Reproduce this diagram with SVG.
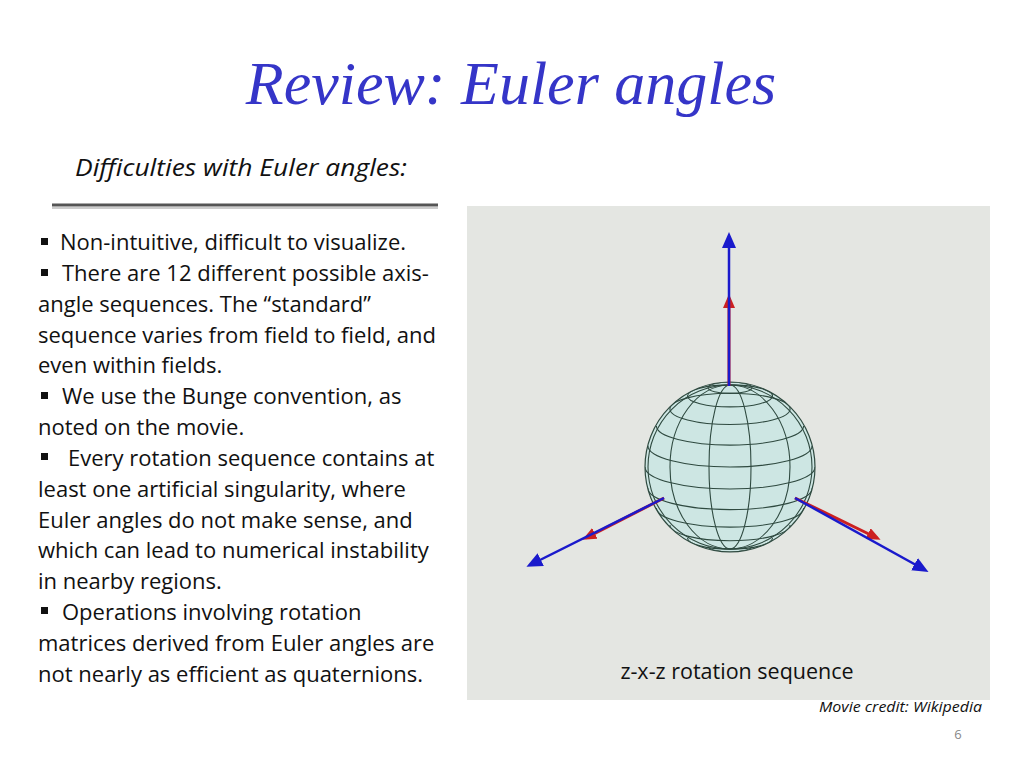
<svg xmlns="http://www.w3.org/2000/svg" width="1024" height="768" viewBox="0 0 1024 768">
<style>
.b{font-family:"Open Sans","Liberation Sans",sans-serif;font-size:22px;fill:#111}
.g{fill:none;stroke:#2f4a40;stroke-width:1.1}
.ax{stroke:#1a1acc;stroke-width:2.5}
.rx{stroke:#cc2020;stroke-width:3}
</style>
<defs>
<marker id="bh" markerWidth="16" markerHeight="14" refX="12" refY="7" orient="auto" markerUnits="userSpaceOnUse" viewBox="0 0 16 14"><path d="M0,0 L16,7 L0,14 z" fill="#1a1acc"/></marker>
<marker id="rh" markerWidth="14" markerHeight="12" refX="10" refY="6" orient="auto" markerUnits="userSpaceOnUse" viewBox="0 0 14 12"><path d="M0,0 L14,6 L0,12 z" fill="#cc2020"/></marker>
<clipPath id="sc"><circle cx="730" cy="467" r="85"/></clipPath>
</defs>
<rect width="1024" height="768" fill="#fff"/>
<text x="511" y="104" text-anchor="middle" font-family="Liberation Serif,serif" font-style="italic" font-size="62" fill="#3535c8">Review: Euler angles</text>
<text x="241" y="176" text-anchor="middle" font-family="Open Sans,Liberation Sans,sans-serif" font-style="italic" font-size="23" fill="#111" textLength="332" lengthAdjust="spacingAndGlyphs">Difficulties with Euler angles:</text>
<line x1="52" y1="205" x2="438" y2="205" stroke="#555" stroke-width="3"/>
<line x1="52" y1="208" x2="438" y2="208" stroke="#ccc" stroke-width="2"/>
<g id="bullets" fill="#111">
<rect x="41" y="238" width="7" height="7"/><rect x="41" y="269" width="7" height="7"/><rect x="41" y="392" width="7" height="7"/><rect x="41" y="453" width="7" height="7"/><rect x="41" y="607" width="7" height="7"/>
</g>
<g id="body" class="b">
<text x="60" y="250">Non-intuitive, difficult to visualize.</text>
<text x="62" y="281">There are 12 different possible axis-</text>
<text x="38" y="312">angle sequences.  The “standard”</text>
<text x="38" y="343">sequence varies from field to field, and</text>
<text x="38" y="373">even within fields.</text>
<text x="62" y="404">We use the Bunge convention, as</text>
<text x="38" y="435">noted on the movie.</text>
<text x="68" y="466">Every rotation sequence contains at</text>
<text x="38" y="497">least one artificial singularity, where</text>
<text x="38" y="528">Euler angles do not make sense, and</text>
<text x="38" y="558">which can lead to numerical instability</text>
<text x="38" y="589">in nearby regions.</text>
<text x="62" y="620">Operations involving rotation</text>
<text x="38" y="651">matrices derived from Euler angles are</text>
<text x="38" y="682">not nearly as efficient as quaternions.</text>
</g>
<rect x="467" y="206" width="523" height="494" fill="#e4e6e2"/>
<g id="sphere">
<circle cx="730" cy="467" r="85" fill="#cde6e3" stroke="#2f4a40" stroke-width="1.2"/>
<g clip-path="url(#sc)" class="g">
<ellipse cx="730" cy="387.7" rx="22" ry="5.7"/>
<ellipse cx="730" cy="395.9" rx="42.5" ry="11"/>
<ellipse cx="730" cy="408.9" rx="60.1" ry="15.6"/>
<path d="M656.4,426 A73.6,19.1 0 0 0 803.6,426"/>
<path d="M647.9,445.7 A82.1,21.3 0 0 0 812.1,445.7"/>
<path d="M645,467 A85,22 0 0 0 815,467"/>
<path d="M647.9,488.3 A82.1,21.3 0 0 0 812.1,488.3"/>
<path d="M656.4,508 A73.6,19.1 0 0 0 803.6,508"/>
<path d="M669.9,525.1 A60.1,15.6 0 0 0 790.1,525.1"/>
<path d="M687.5,538.1 A42.5,11 0 0 0 772.5,538.1"/>
<path d="M708,546.3 A22,5.7 0 0 0 752,546.3"/>
<path d="M730,385 A21,82 0 0 1 730,549"/><path d="M730,385 A21,82 0 0 0 730,549"/>
<path d="M730,385 A60,82 0 0 1 730,549"/><path d="M730,385 A60,82 0 0 0 730,549"/>
<path d="M730,385 A82,82 0 0 1 730,549"/><path d="M730,385 A82,82 0 0 0 730,549"/>
</g>
</g>
<g id="axes">
<line class="rx" x1="729" y1="386" x2="729" y2="298" marker-end="url(#rh)"/>
<line class="ax" x1="729" y1="386" x2="729" y2="236" marker-end="url(#bh)"/>
<line class="rx" x1="664" y1="498" x2="586" y2="538" marker-end="url(#rh)"/>
<line class="ax" x1="664" y1="498" x2="530" y2="565" marker-end="url(#bh)"/>
<line class="rx" x1="795" y1="498" x2="877" y2="538" marker-end="url(#rh)"/>
<line class="ax" x1="795" y1="498" x2="925" y2="570" marker-end="url(#bh)"/>
</g>
<text x="737" y="679" text-anchor="middle" font-family="Open Sans,Liberation Sans,sans-serif" font-size="21.5" fill="#111">z-x-z rotation sequence</text>
<text x="982" y="712" text-anchor="end" font-family="Open Sans,Liberation Sans,sans-serif" font-style="italic" font-size="14" fill="#111" textLength="163" lengthAdjust="spacingAndGlyphs">Movie credit: Wikipedia</text>
<text x="958" y="739" text-anchor="middle" font-family="Open Sans,Liberation Sans,sans-serif" font-size="13" fill="#888">6</text>
</svg>
